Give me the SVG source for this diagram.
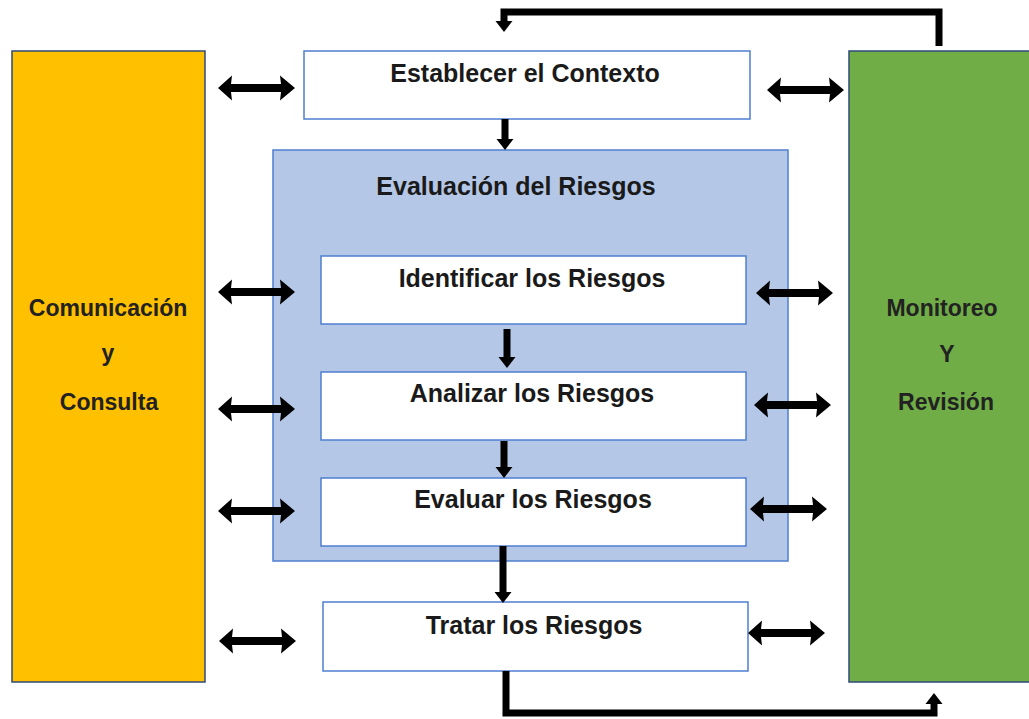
<svg xmlns="http://www.w3.org/2000/svg" width="1029" height="719" viewBox="0 0 1029 719">
  <defs>
    <style>
      .lbl { font-family: "Liberation Sans", Arial, sans-serif; font-weight: bold; font-size: 25px; fill: #1a1a1a; text-anchor: middle; }
      .side { font-size: 23px; fill: #222; }
      .step { fill: #ffffff; stroke: #4f7fd0; stroke-width: 1.5; }
      .flow { fill: none; stroke: #000; stroke-width: 7; }
      .dbl { fill: #000; }
    </style>
    <marker id="head" markerUnits="userSpaceOnUse" markerWidth="14" markerHeight="20" refX="0" refY="0" viewBox="0 -10 14 20" orient="auto-start-reverse" overflow="visible">
      <path d="M0 -8.5 L11 0 L0 8.5 Z" fill="#000"/>
    </marker>
    <!-- two-headed horizontal arrow, 77 long, centred vertically on 0 -->
    <path id="dbl" class="dbl" d="M0 0 L14 -12.5 L13 -4 L63 -4 L62 -12.5 L77 0 L62 12.5 L63 4 L13 4 L14 12.5 Z"/>
  </defs>

  <rect width="1029" height="719" fill="#ffffff"/>

  <!-- side panels -->
  <g id="comunicacion">
    <rect x="12" y="51" width="193" height="631" fill="#ffc000" stroke="#2f4a7a" stroke-width="1.5"/>
    <text class="lbl side" x="108" y="316">Comunicación</text>
    <text class="lbl side" x="108" y="361">y</text>
    <text class="lbl side" x="109" y="410">Consulta</text>
  </g>
  <g id="monitoreo">
    <rect x="849" y="51" width="185" height="631" fill="#70ad47" stroke="#2f4a7a" stroke-width="1.5"/>
    <text class="lbl side" x="942" y="316">Monitoreo</text>
    <text class="lbl side" x="947" y="362">Y</text>
    <text class="lbl side" x="946" y="410">Revisión</text>
  </g>

  <!-- central process -->
  <g id="contexto">
    <rect class="step" x="304" y="51" width="446" height="68"/>
    <text class="lbl" x="525" y="82">Establecer el Contexto</text>
  </g>
  <g id="evaluacion">
    <rect x="273" y="150" width="515" height="411" fill="#b4c7e7" stroke="#4f7fd0" stroke-width="1.5"/>
    <text class="lbl" x="516" y="195">Evaluación del Riesgos</text>
  </g>
  <g id="identificar">
    <rect class="step" x="321" y="256" width="425" height="68"/>
    <text class="lbl" x="532" y="287">Identificar los Riesgos</text>
  </g>
  <g id="analizar">
    <rect class="step" x="321" y="372" width="425" height="68"/>
    <text class="lbl" x="532" y="402">Analizar los Riesgos</text>
  </g>
  <g id="evaluar">
    <rect class="step" x="321" y="478" width="425" height="68"/>
    <text class="lbl" x="533" y="508">Evaluar los Riesgos</text>
  </g>
  <g id="tratar">
    <rect class="step" x="323" y="602" width="425" height="69"/>
    <text class="lbl" x="534" y="634">Tratar los Riesgos</text>
  </g>

  <!-- connectors -->
  <g id="connectors">
    <line class="flow" x1="505" y1="119" x2="505" y2="139" marker-end="url(#head)"/>
    <line class="flow" x1="507" y1="329" x2="507" y2="357" marker-end="url(#head)"/>
    <line class="flow" x1="504" y1="441" x2="504" y2="467" marker-end="url(#head)"/>
    <line class="flow" x1="503" y1="546" x2="503" y2="592" marker-end="url(#head)"/>
    <path class="flow" d="M939 46 V12 H504 V21" marker-end="url(#head)"/>
    <path class="flow" d="M506 671 V713 H934 V704" marker-end="url(#head)"/>

    <use href="#dbl" x="218" y="88"/>
    <use href="#dbl" x="218" y="292"/>
    <use href="#dbl" x="218" y="409"/>
    <use href="#dbl" x="218" y="511"/>
    <use href="#dbl" x="219" y="641"/>

    <use href="#dbl" x="767" y="90"/>
    <use href="#dbl" x="756" y="293"/>
    <use href="#dbl" x="754" y="405"/>
    <use href="#dbl" x="750" y="509"/>
    <use href="#dbl" x="748" y="633"/>
  </g>
</svg>
